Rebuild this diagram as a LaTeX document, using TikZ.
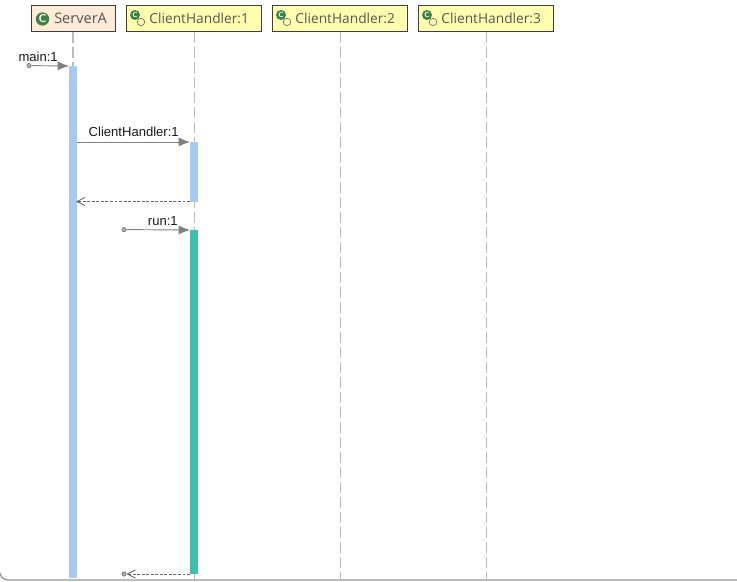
\documentclass[tikz,border=0pt]{standalone}
\usepackage{fontspec}
\setmainfont{Liberation Sans}
\newfontfamily\headfont{Open Sans}
\usetikzlibrary{arrows.meta}
\definecolor{boxline}{HTML}{3F3F3F}
\definecolor{peach}{HTML}{FFEBD7}
\definecolor{lightyellow}{HTML}{FFFFAF}
\definecolor{barblue}{HTML}{A6CAF0}
\definecolor{barteal}{HTML}{3FBFAD}
\definecolor{headtext}{HTML}{555555}
\definecolor{iconGreen}{HTML}{3B8245}
\definecolor{ringFill}{HTML}{FFF8C8}
\definecolor{ringLine}{HTML}{7A6A3A}
\tikzset{
  x=0.75pt, y=-0.75pt,
  headbox/.style={draw=boxline, line width=0.75pt, minimum height=19.5pt, inner sep=0pt, outer sep=0pt, anchor=north west},
  headtxt/.style={font=\headfont\fontsize{10.3pt}{12pt}\selectfont, text=headtext, inner sep=0pt, anchor=base west},
  lifeline/.style={draw=black!27, line width=0.9pt, dash pattern=on 8.25pt off 3pt},
  barnode/.style={inner sep=0pt, outer sep=0pt, minimum width=6pt, anchor=north west},
  msg/.style={draw=black!50, line width=0.7pt, yshift=-0.3pt, -{Latex[length=8.5pt,width=6.8pt]}},
  ret/.style={draw=black!60, line width=0.65pt, dash pattern=on 2.2pt off 1.2pt, -{Straight Barb[length=6pt,width=6pt]}},
  startdot/.style={circle, draw=black!55, fill=black!30, line width=0.5pt, minimum size=3.2pt, inner sep=0pt},
  lbl/.style={font=\fontsize{9.8pt}{11pt}\selectfont, text=black!90, inner sep=0pt, anchor=base east},
  bigicon/.style={circle, fill=iconGreen, minimum size=10pt, inner sep=0pt, text=white, font=\sffamily\bfseries\fontsize{8.5pt}{9pt}\selectfont},
  smallicon/.style={circle, fill=iconGreen, minimum size=7.5pt, inner sep=0pt, text=white, font=\sffamily\bfseries\fontsize{5.5pt}{6pt}\selectfont},
  ringicon/.style={circle, draw=ringLine, fill=ringFill, line width=0.5pt, minimum size=5.6pt, inner sep=0pt},
}
\begin{document}
\begin{tikzpicture}
\useasboundingbox (0,0) rectangle (737,581);
\fill[white] (0,0) rectangle (737,581);
% bottom frame line
\draw[draw=black!40, line width=1pt] (0,573) .. controls (1,577) and (3,580) .. (9,580) -- (737,580);
% lifelines
\coordinate (L0t) at (73,32); \coordinate (L0b) at (73,70);
\coordinate (L1t) at (194.5,32); \coordinate (L1b) at (194.5,579);
\coordinate (L2t) at (340.3,32); \coordinate (L2b) at (340.3,579);
\coordinate (L3t) at (486.5,32); \coordinate (L3b) at (486.5,579);
\draw[lifeline] (L0t) -- (L0b);
\draw[lifeline] (L1t) -- (L1b);
\draw[lifeline] (L2t) -- (L2b);
\draw[lifeline] (L3t) -- (L3b);
% header boxes
\node[headbox, fill=peach, minimum width=63pt] (sa) at (31.5,5.5) {};
\node[headbox, fill=lightyellow, minimum width=101.25pt] (ch1) at (126.5,5.5) {};
\node[headbox, fill=lightyellow, minimum width=101.25pt] (ch2) at (272.5,5.5) {};
\node[headbox, fill=lightyellow, minimum width=101.25pt] (ch3) at (418.5,5.5) {};
\node[bigicon] (isa) at (42.5,19) {C};
\node[headtxt, font=\headfont\fontsize{10.9pt}{12pt}\selectfont] (tsa) at (54,24) {ServerA};
\node[ringicon] (r1) at (141,22) {};
\node[smallicon] (i1) at (135,15) {C};
\node[headtxt] (t1) at (149.2,24) {ClientHandler:1};
\node[ringicon] (r2) at (287,22) {};
\node[smallicon] (i2) at (281,15) {C};
\node[headtxt] (t2) at (295.2,24) {ClientHandler:2};
\node[ringicon] (r3) at (433,22) {};
\node[smallicon] (i3) at (427,15) {C};
\node[headtxt] (t3) at (441.2,24) {ClientHandler:3};
% activation bars
\node[barnode, fill=barblue, minimum height=384pt] (b0) at (69,66) {};
\node[barnode, fill=barblue, minimum height=45pt] (b1) at (190,142) {};
\node[barnode, fill=barteal, minimum height=258pt] (b2) at (190,230) {};
% messages
\node[startdot] (s1) at (29,65.6) {};
\draw[msg] (s1) -- (b0.north west);
\node[lbl] (m1) at (58,62) {main:1};
\coordinate (a2) at (77,142);
\draw[msg] (a2) -- (b1.north west);
\node[lbl] (m2) at (179,137) {ClientHandler:1};
\coordinate (r3s) at (190,201.5); \coordinate (r3e) at (76,201.5);
\draw[ret] (r3s) -- (r3e);
\node[startdot] (s4) at (124,229.6) {};
\draw[msg] (s4) -- (b2.north west);
\node[lbl] (m4) at (178,225) {run:1};
\node[startdot] (s5) at (124,574) {};
\draw[ret] (b2.south west) -- (s5);
\end{tikzpicture}
\end{document}
